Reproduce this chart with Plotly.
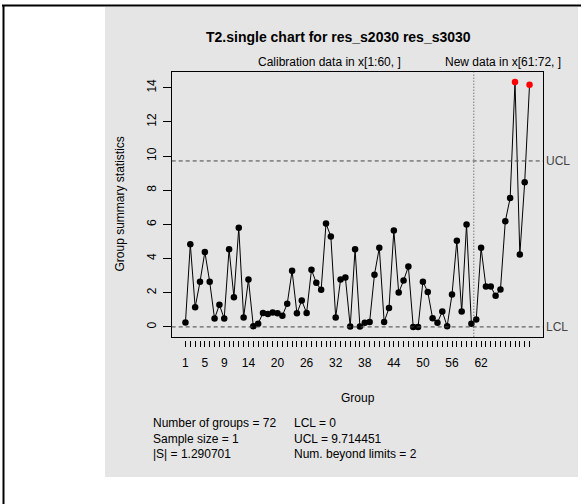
import plotly.graph_objects as go

# T2 statistics per group (single observations)
groups = list(range(1, 73))
t2_stats = [
    0.26, 4.84, 1.15, 2.64, 4.39, 2.64, 0.49, 1.29, 0.49, 4.55,
    1.74, 5.80, 0.55, 2.77, 0.04, 0.19, 0.82, 0.76, 0.84, 0.80,
    0.66, 1.35, 3.28, 0.80, 1.54, 0.82, 3.34, 2.58, 2.17, 6.05,
    5.29, 0.55, 2.77, 2.89, 0.02, 4.55, 0.02, 0.25, 0.29, 3.06,
    4.63, 0.29, 1.11, 5.64, 2.01, 2.71, 3.53, 0.00, 0.00, 2.65,
    2.05, 0.50, 0.25, 0.90, 0.04, 1.89, 5.04, 0.90, 5.99, 0.19,
    0.43, 4.63, 2.36, 2.36, 1.82, 2.19, 6.19, 7.54, 14.33, 4.24,
    8.47, 14.18,
]
n_calibration = 60
lcl = 0.0
ucl = 9.714451
det_s = "1.290701"
tick_labels = [1, 5, 9, 14, 20, 26, 32, 38, 44, 50, 56, 62]

W, H = 584, 504
plot_l, plot_r, plot_t, plot_b = 171.7, 543.3, 72.3, 336.7


def px_x(v):
    return v / W


def px_y(v):
    return 1 - v / H


# R-style axis limits (4% padding)
xmin, xmax = min(groups), max(groups)
xpad = (xmax - xmin) * 0.04
ylo = min(min(t2_stats), lcl, ucl)
yhi = max(max(t2_stats), lcl, ucl)
ypad = (yhi - ylo) * 0.04
xr = [xmin - xpad, xmax + xpad]
yr = [ylo - ypad, yhi + ypad]

colors = ["red" if (v > ucl or v < lcl) else "black" for v in t2_stats]

fig = go.Figure()
fig.add_trace(go.Scatter(
    x=groups, y=t2_stats, mode="lines+markers",
    line=dict(color="black", width=1),
    marker=dict(color=colors, size=6.5),
    hoverinfo="x+y", showlegend=False,
))
# carrier trace for the offset tick axis
fig.add_trace(go.Scatter(x=[groups[0]], y=[None], xaxis="x2", yaxis="y",
                         mode="markers", showlegend=False, hoverinfo="skip"))

font = "Liberation Sans, Arial, sans-serif"
dash = "4px,3px"

shapes = [
    # grey margin panel
    dict(type="rect", xref="paper", yref="paper", x0=px_x(105), x1=px_x(578),
         y0=px_y(477), y1=px_y(7), fillcolor="#e5e5e5", line=dict(width=0),
         layer="below"),
    # outer frame edges
    dict(type="line", xref="paper", yref="paper", x0=px_x(2), x1=px_x(581),
         y0=px_y(5.5), y1=px_y(5.5), line=dict(color="black", width=2)),
    dict(type="line", xref="paper", yref="paper", x0=px_x(3.5), x1=px_x(3.5),
         y0=px_y(5), y1=0, line=dict(color="black", width=2)),
    # control limits
    dict(type="line", xref="paper", yref="y", x0=px_x(plot_l), x1=px_x(plot_r),
         y0=ucl, y1=ucl, line=dict(color="#444444", width=1, dash=dash)),
    dict(type="line", xref="paper", yref="y", x0=px_x(plot_l), x1=px_x(plot_r),
         y0=lcl, y1=lcl, line=dict(color="#444444", width=1, dash=dash)),
    # calibration / new data split
    dict(type="line", xref="x", yref="paper", x0=n_calibration + 0.5,
         x1=n_calibration + 0.5, y0=px_y(plot_b), y1=px_y(plot_t),
         line=dict(color="#444444", width=1, dash="1px,2px")),
]

annotations = [
    dict(text="<b>T2.single chart for res_s2030 res_s3030</b>", xref="paper",
         yref="paper", x=px_x(338), y=px_y(37), yanchor="middle", showarrow=False,
         font=dict(size=14, color="black", family=font)),
    dict(text=f"Calibration data in x[1:{n_calibration}, ]", xref="x", yref="paper",
         x=(1 + n_calibration + 0.5) / 2, y=px_y(plot_t - 1), yanchor="bottom",
         showarrow=False, font=dict(size=12, color="black", family=font)),
    dict(text=f"New data in x[{n_calibration + 1}:{len(groups)}, ]", xref="x",
         yref="paper", x=(n_calibration + 1 + len(groups)) / 2, y=px_y(plot_t - 1),
         yanchor="bottom", showarrow=False,
         font=dict(size=12, color="black", family=font)),
    dict(text="UCL", xref="paper", yref="y", x=px_x(plot_r + 1), y=ucl,
         xanchor="left", yanchor="middle", showarrow=False,
         font=dict(size=12, color="#444444", family=font)),
    dict(text="LCL", xref="paper", yref="y", x=px_x(plot_r + 1), y=lcl,
         xanchor="left", yanchor="middle", showarrow=False,
         font=dict(size=12, color="#444444", family=font)),
    dict(text="Group", xref="paper", yref="paper", x=px_x(plot_l + plot_r) / 2,
         y=px_y(398), yanchor="middle", showarrow=False,
         font=dict(size=12, color="black", family=font)),
    dict(text="Group summary statistics", xref="paper", yref="paper",
         x=px_x(120), y=(px_y(plot_t) + px_y(plot_b)) / 2, textangle=-90,
         xanchor="center", yanchor="middle",
         showarrow=False, font=dict(size=12, color="black", family=font)),
    dict(text=f"Number of groups = {len(groups)}<br>Sample size = 1<br>|S| = {det_s}",
         xref="paper", yref="paper", x=px_x(151), y=px_y(414), xanchor="left",
         yanchor="top", align="left", showarrow=False,
         font=dict(size=12, color="black", family=font)),
    dict(text=f"LCL = {lcl:g}<br>UCL = {ucl}<br>Num. beyond limits = "
              f"{sum(1 for v in t2_stats if v > ucl or v < lcl)}",
         xref="paper", yref="paper", x=px_x(292), y=px_y(414), xanchor="left",
         yanchor="top", align="left", showarrow=False,
         font=dict(size=12, color="black", family=font)),
]

fig.update_layout(
    width=W, height=H,
    margin=dict(l=0, r=0, t=0, b=0),
    paper_bgcolor="white", plot_bgcolor="white",
    shapes=shapes, annotations=annotations,
    xaxis=dict(domain=[px_x(plot_l), px_x(plot_r)], range=xr, showgrid=False,
               zeroline=False, showline=True, linecolor="black", linewidth=1,
               mirror=True, ticks="", showticklabels=False),
    xaxis2=dict(overlaying="x", anchor="free", position=px_y(340), range=xr,
                showgrid=False, zeroline=False, showline=False,
                tickmode="array", tickvals=tick_labels,
                ticktext=[str(t) for t in tick_labels],
                ticks="outside", ticklen=6, tickcolor="black",
                ticklabelstandoff=6,
                minor=dict(tickmode="array", tickvals=groups, ticks="outside",
                           ticklen=6, tickcolor="black", showgrid=False),
                tickfont=dict(size=12, color="black", family=font)),
    yaxis=dict(domain=[px_y(plot_b), px_y(plot_t)], range=yr, showgrid=False,
               zeroline=False, showline=True, linecolor="black", linewidth=1,
               mirror=True, ticks="outside", ticklen=8, tickcolor="black",
               tickmode="array", tickvals=list(range(0, 15, 2)), tickangle=-90,
               ticklabelstandoff=2,
               tickfont=dict(size=12, color="black", family=font)),
)

fig.write_html("out.html")
